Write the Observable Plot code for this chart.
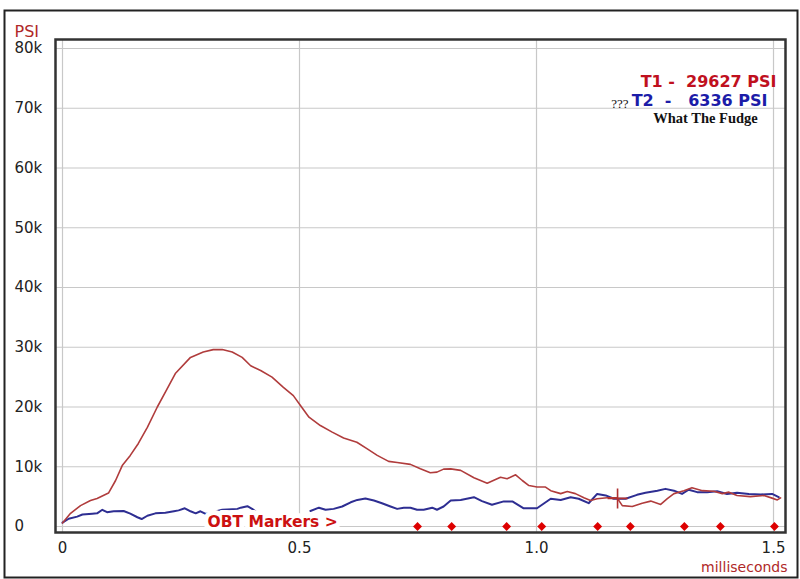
<!DOCTYPE html>
<html>
<head>
<meta charset="utf-8">
<script src="https://cdn.jsdelivr.net/npm/d3@7"></script>
<script src="https://cdn.jsdelivr.net/npm/@observablehq/plot@0.6"></script>
<style>
  html, body { margin: 0; padding: 0; background: #fff; }
</style>
</head>
<body>
<div id="chart"></div>
<script>
// T1 trace (red), milliseconds / PSI
const redMs = [0.000,0.017,0.038,0.059,0.073,0.097,0.112,0.126,0.143,0.160,
  0.179,0.200,0.217,0.238,0.270,0.297,0.318,0.337,0.358,0.379,
  0.397,0.418,0.442,0.466,0.487,0.502,0.520,0.544,0.569,0.593,
  0.621,0.643,0.664,0.688,0.706,0.734,0.755,0.776,0.790,0.804,
  0.819,0.840,0.868,0.896,0.924,0.938,0.956,0.970,0.984,1.001,
  1.019,1.030,1.051,1.065,1.082,1.100,1.114,1.128,1.149,1.170,
  1.181,1.202,1.223,1.241,1.262,1.276,1.290,1.311,1.328,1.350,
  1.374,1.392,1.406,1.423,1.451,1.480,1.497,1.508,1.515];
const redPsi = [600,2200,3500,4350,4700,5600,7700,10200,11900,13900,
  16600,20000,22500,25600,28300,29200,29600,29630,29200,28300,
  26900,26100,25000,23300,21900,20250,18300,16900,15800,14800,
  14100,13000,11900,10900,10700,10400,9650,9000,9100,9600,
  9650,9400,8150,7250,8250,8000,8650,7700,6850,6600,
  6600,6000,5500,5850,5500,4800,4350,4650,4800,4800,
  3500,3350,3900,4250,3700,4650,5500,6000,6500,6000,
  5900,5500,5750,5200,5000,5200,4750,4450,4800];

// T2 trace (blue); NaN = hidden part of the trace
const blueMs = [0.000,0.013,0.031,0.042,0.063,0.073,0.084,0.094,0.108,0.129,
  0.143,0.158,0.167,0.179,0.196,0.217,0.235,0.245,0.258,0.270,
  0.281,0.291,0.302,0.337,0.369,0.376,0.390,0.400,0.407,
  0.460,0.523,0.541,0.555,0.572,0.590,0.608,0.622,0.639,0.657,
  0.674,0.692,0.706,0.720,0.734,0.748,0.762,0.780,0.790,0.804,
  0.819,0.840,0.868,0.885,0.906,0.931,0.949,0.973,1.001,1.030,
  1.051,1.072,1.089,1.110,1.128,1.146,1.163,1.188,1.212,1.230,
  1.255,1.272,1.290,1.307,1.321,1.339,1.360,1.381,1.402,1.423,
  1.448,1.473,1.497,1.511];
const bluePsi = [650,1300,1650,2000,2150,2200,2800,2400,2550,2600,
  2150,1550,1250,1800,2200,2300,2550,2700,3050,2550,
  2200,2550,2100,2800,2950,3150,3400,2950,2550,
  NaN,2600,3150,2800,2950,3350,4050,4450,4700,4350,
  3900,3350,2950,3150,3150,2800,2800,3150,2800,3350,
  4350,4450,4900,4250,3650,4200,4200,3050,3050,4650,
  4450,4900,4650,3900,5450,5200,4650,4650,5300,5650,
  6000,6300,6000,5450,6150,5750,5750,5900,5450,5650,
  5450,5350,5450,4900];

// OBT markers (ms)
const obtMs = [0.749,0.821,0.937,1.011,1.129,1.198,1.312,1.388,1.502];
// cursor cross
const cursorMs = [1.171];
const cursorPsi = [4700];

// ticks
const xTicks = [0, 0.5, 1.0, 1.5];
const xTickLabels = ["0", "0.5", "1.0", "1.5"];
const yTicks = [0,10000,20000,30000,40000,50000,60000,70000,80000];
const yTickLabels = ["0","10k","20k","30k","40k","50k","60k","70k","80k"];

// legend texts
const legendT1 = "T1 -\u00a0\u00a029627 PSI";
const legendT2 = "T2\u00a0\u00a0-\u00a0\u00a0\u00a06336 PSI";
const legendPrefix = "???";
const legendNote = "What The Fudge";
const obtLabel = "OBT Markers >";
const yLabel = "PSI";
const xLabel = "milliseconds";

const red = redMs.map((x, i) => ({x, y: redPsi[i]}));
const blue = blueMs.map((x, i) => ({x, y: bluePsi[i]}));
const obt = obtMs.map(x => ({x, y: 0}));
const cursor = cursorMs.map((x, i) => ({x, y: cursorPsi[i]}));

const crossSymbol = {
  draw(ctx, size) {
    const r = Math.sqrt(size / Math.PI);
    ctx.moveTo(-r, 0); ctx.lineTo(r, 0);
    ctx.moveTo(0, -r); ctx.lineTo(0, r);
  }
};

const sans = "DejaVu Sans, sans-serif";
const serif = "Liberation Serif, Times New Roman, serif";

const chart = Plot.plot({
  width: 800,
  height: 579,
  marginLeft: 55,
  marginRight: 15,
  marginTop: 39,
  marginBottom: 47,
  style: {background: "#fff", fontFamily: sans, fontSize: "15px", color: "#222"},
  x: {domain: [-0.01477, 1.5253], axis: null},
  y: {domain: [-1004, 81506], axis: null},
  marks: [
    Plot.ruleY(yTicks, {stroke: "#c8c8c8", strokeWidth: 1.2}),
    Plot.ruleX(xTicks, {stroke: "#c8c8c8", strokeWidth: 1.2}),
    Plot.line(blue, {x: "x", y: "y", stroke: "#2e2e92", strokeWidth: 2}),
    Plot.line(red, {x: "x", y: "y", stroke: "#b03c3c", strokeWidth: 1.6}),
    Plot.text([obtLabel], {text: d => d, frameAnchor: "bottom-left", textAnchor: "start", lineAnchor: "middle",
      dx: 152, dy: -10, fill: "#cc1111", stroke: "#fff", strokeWidth: 10, fontWeight: "bold",
      fontSize: 15.5, fontFamily: sans}),
    Plot.dot(obt, {x: "x", y: "y", symbol: "diamond2", r: 4, fill: "#dd0000", stroke: "none"}),
    Plot.dot(cursor, {x: "x", y: "y", symbol: crossSymbol, r: 10, fill: "none", stroke: "#b03030", strokeWidth: 1.6}),
    Plot.frame({stroke: "#333", strokeWidth: 2.5}),
    Plot.frame({stroke: "#222", strokeWidth: 2, insetLeft: -51, insetTop: -29, insetRight: -12, insetBottom: -45}),
    // y tick labels
    Plot.text(yTicks, {y: d => d, text: (d, i) => yTickLabels[i], frameAnchor: "left", textAnchor: "start",
      dx: -41, fill: "#222", fontSize: 15}),
    // x tick labels
    Plot.text(xTicks, {x: d => d, text: (d, i) => xTickLabels[i], frameAnchor: "bottom", lineAnchor: "middle",
      dy: 16, fill: "#222", fontSize: 15}),
    Plot.text([yLabel], {text: d => d, frameAnchor: "top-left", textAnchor: "start", lineAnchor: "middle",
      dx: -41, dy: -8, fill: "#b02828", fontSize: 16}),
    Plot.text([xLabel], {text: d => d, frameAnchor: "bottom-right", textAnchor: "end", lineAnchor: "middle",
      dx: 2, dy: 35, fill: "#b02828", fontSize: 14}),
    // legend
    Plot.text([legendT1], {text: d => d, frameAnchor: "top-right", textAnchor: "end", lineAnchor: "middle",
      dx: -9, dy: 42, fill: "#c0101e", fontWeight: "bold", fontSize: 16}),
    Plot.text([legendT2], {text: d => d, frameAnchor: "top-right", textAnchor: "end", lineAnchor: "middle",
      dx: -18, dy: 61, fill: "#1c1ca8", fontWeight: "bold", fontSize: 16}),
    Plot.text([legendPrefix], {text: d => d, frameAnchor: "top-right", textAnchor: "end", lineAnchor: "middle",
      dx: -157, dy: 64, fill: "#111", fontSize: 13, fontFamily: serif}),
    Plot.text([legendNote], {text: d => d, frameAnchor: "top-right", textAnchor: "middle", lineAnchor: "middle",
      dx: -80, dy: 79, fill: "#111", fontWeight: "bold", fontSize: 14.5, fontFamily: serif})
  ]
});
document.getElementById("chart").appendChild(chart);
</script>
</body>
</html>
